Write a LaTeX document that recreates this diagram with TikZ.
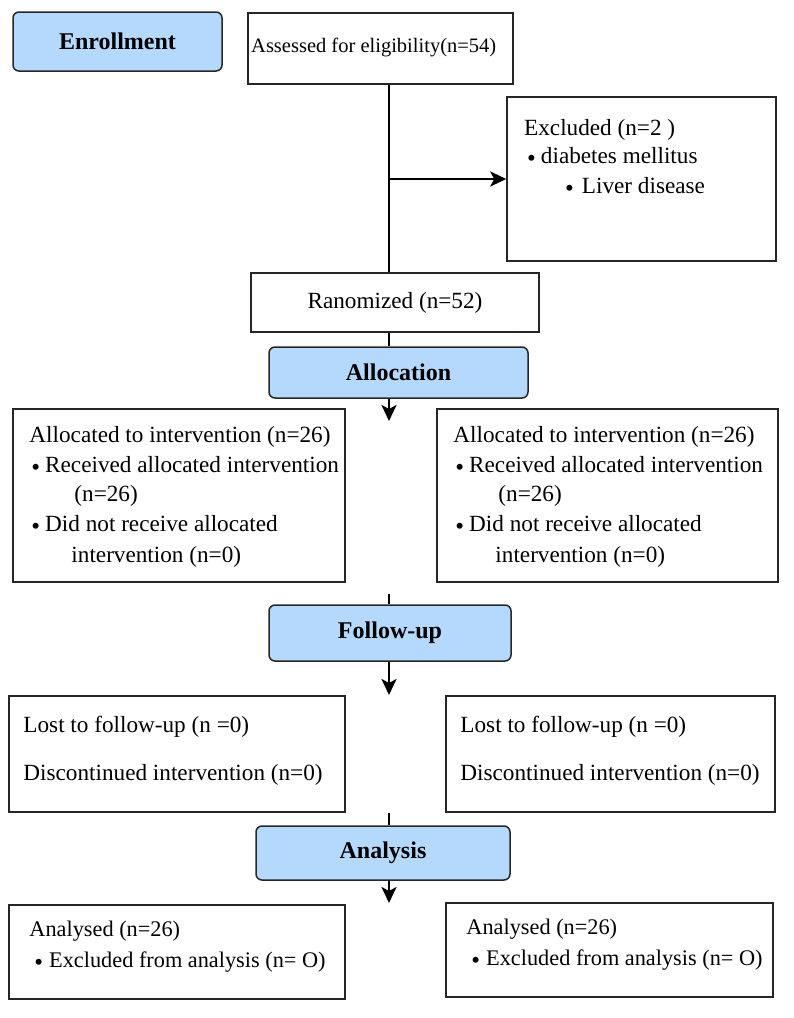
\documentclass[tikz,border=0pt]{standalone}
\usepackage{fontspec}
\setmainfont{Liberation Serif}
\usetikzlibrary{arrows.meta}
\definecolor{headblue}{RGB}{181,217,252}
\newcommand{\blt}{{\fontsize{25}{25}\selectfont\raisebox{-3.5pt}{•}}}

\begin{document}
\begin{tikzpicture}[x=1pt,y=-1pt,
    box/.style={draw=black!85, line width=1.5pt, inner sep=0pt, font=\fontsize{23.2}{27}\selectfont},
    head/.style={draw=black!85, line width=1.5pt, fill=headblue, rounded corners=6pt, inner sep=0pt, font=\fontsize{24}{28}\selectfont\bfseries},
    txt/.style={inner sep=0pt, anchor=base west, font=\fontsize{23.2}{27}\selectfont},
    link/.style={line width=2.4pt},
    arr/.style={line width=2.8pt, -{Stealth[length=16pt,width=15pt,inset=4pt]}}]
    \useasboundingbox (0,0) rectangle (794,1018);

    % Enrollment
    \node[head, minimum width=209pt, minimum height=59pt] (enroll) at (117.5,41.5) {Enrollment};
    \node[box, minimum width=265pt, minimum height=71pt] (assess) at (380.5,48.5) {};
    \node[txt, font=\fontsize{20.5}{24}\selectfont] (assesst) at (251,52) {Assessed for eligibility(n=54)};

    \node[box, minimum width=269pt, minimum height=164pt] (excl) at (641.5,179) {};
    \node[txt] (exclt) at (524,135) {Excluded (n=2 )};
    \node[txt] (excl1) at (527,163) {\blt\hspace{5pt}diabetes mellitus};
    \node[txt] (excl2) at (565,193) {\blt\hspace{8pt}Liver disease};

    \node[box, minimum width=288pt, minimum height=59pt] (rand) at (395,302.5) {Ranomized (n=52)};

    % Allocation
    \node[head, minimum width=259pt, minimum height=51pt] (alloc) at (398.5,372.5) {Allocation};
    \node[box, minimum width=332pt, minimum height=173pt] (allocL) at (179,495.5) {};
    \node[box, minimum width=341pt, minimum height=173pt] (allocR) at (607.5,495.5) {};
    \foreach \b in {allocL,allocR} {
        \node[txt] (\b-1) at ([shift={(17,34)}]\b.north west) {Allocated to intervention (n=26)};
        \node[txt] (\b-2) at ([shift={(19,64)}]\b.north west) {\blt\hspace{5pt}Received allocated intervention};
        \node[txt] (\b-3) at ([shift={(62,93)}]\b.north west) {(n=26)};
        \node[txt] (\b-4) at ([shift={(19,123)}]\b.north west) {\blt\hspace{5pt}Did not receive allocated};
        \node[txt] (\b-5) at ([shift={(59,154)}]\b.north west) {intervention (n=0)};
    }

    % Follow-up
    \node[head, minimum width=242pt, minimum height=56pt] (follow) at (390,633) {Follow-up};
    \node[box, minimum width=336pt, minimum height=116pt] (followL) at (177,754) {};
    \node[box, minimum width=329pt, minimum height=116pt] (followR) at (610.5,754) {};
    \foreach \b in {followL,followR} {
        \node[txt] (\b-1) at ([shift={(15,37)}]\b.north west) {Lost to follow-up (n =0)};
        \node[txt] (\b-2) at ([shift={(15,85)}]\b.north west) {Discontinued intervention (n=0)};
    }

    % Analysis
    \node[head, minimum width=254pt, minimum height=54pt] (analysis) at (383,853) {Analysis};
    \node[box, minimum width=336pt, minimum height=94pt] (anaL) at (177,952) {};
    \node[box, minimum width=327pt, minimum height=94pt] (anaR) at (609.5,950) {};
    \foreach \b in {anaL,anaR} {
        \node[txt, font=\fontsize{22.3}{26}\selectfont] (\b-1) at ([shift={(21,32)}]\b.north west) {Analysed (n=26)};
        \node[txt, font=\fontsize{22.3}{26}\selectfont] (\b-2) at ([shift={(26,63)}]\b.north west) {\blt\hspace{6pt}Excluded from analysis (n= O)};
    }

    % connectors along the trunk
    \coordinate (trunk) at (389,0);
    \draw[link] (assess.south -| trunk) -- (rand.north -| trunk);
    \draw[arr] (trunk |- excl.west) -- (excl.west);
    \draw[link] (rand.south -| trunk) -- (alloc.north -| trunk);
    \coordinate (tip1) at (389,421);
    \draw[arr] (alloc.south -| trunk) -- (tip1);
    \coordinate (stub2) at (389,594);
    \draw[link] (stub2) -- (follow.north -| trunk);
    \coordinate (tip2) at (389,695);
    \draw[arr] (follow.south -| trunk) -- (tip2);
    \coordinate (stub3) at (389,813);
    \draw[link] (stub3) -- (analysis.north -| trunk);
    \coordinate (tip3) at (389,903);
    \draw[arr] (analysis.south -| trunk) -- (tip3);
\end{tikzpicture}
\end{document}
